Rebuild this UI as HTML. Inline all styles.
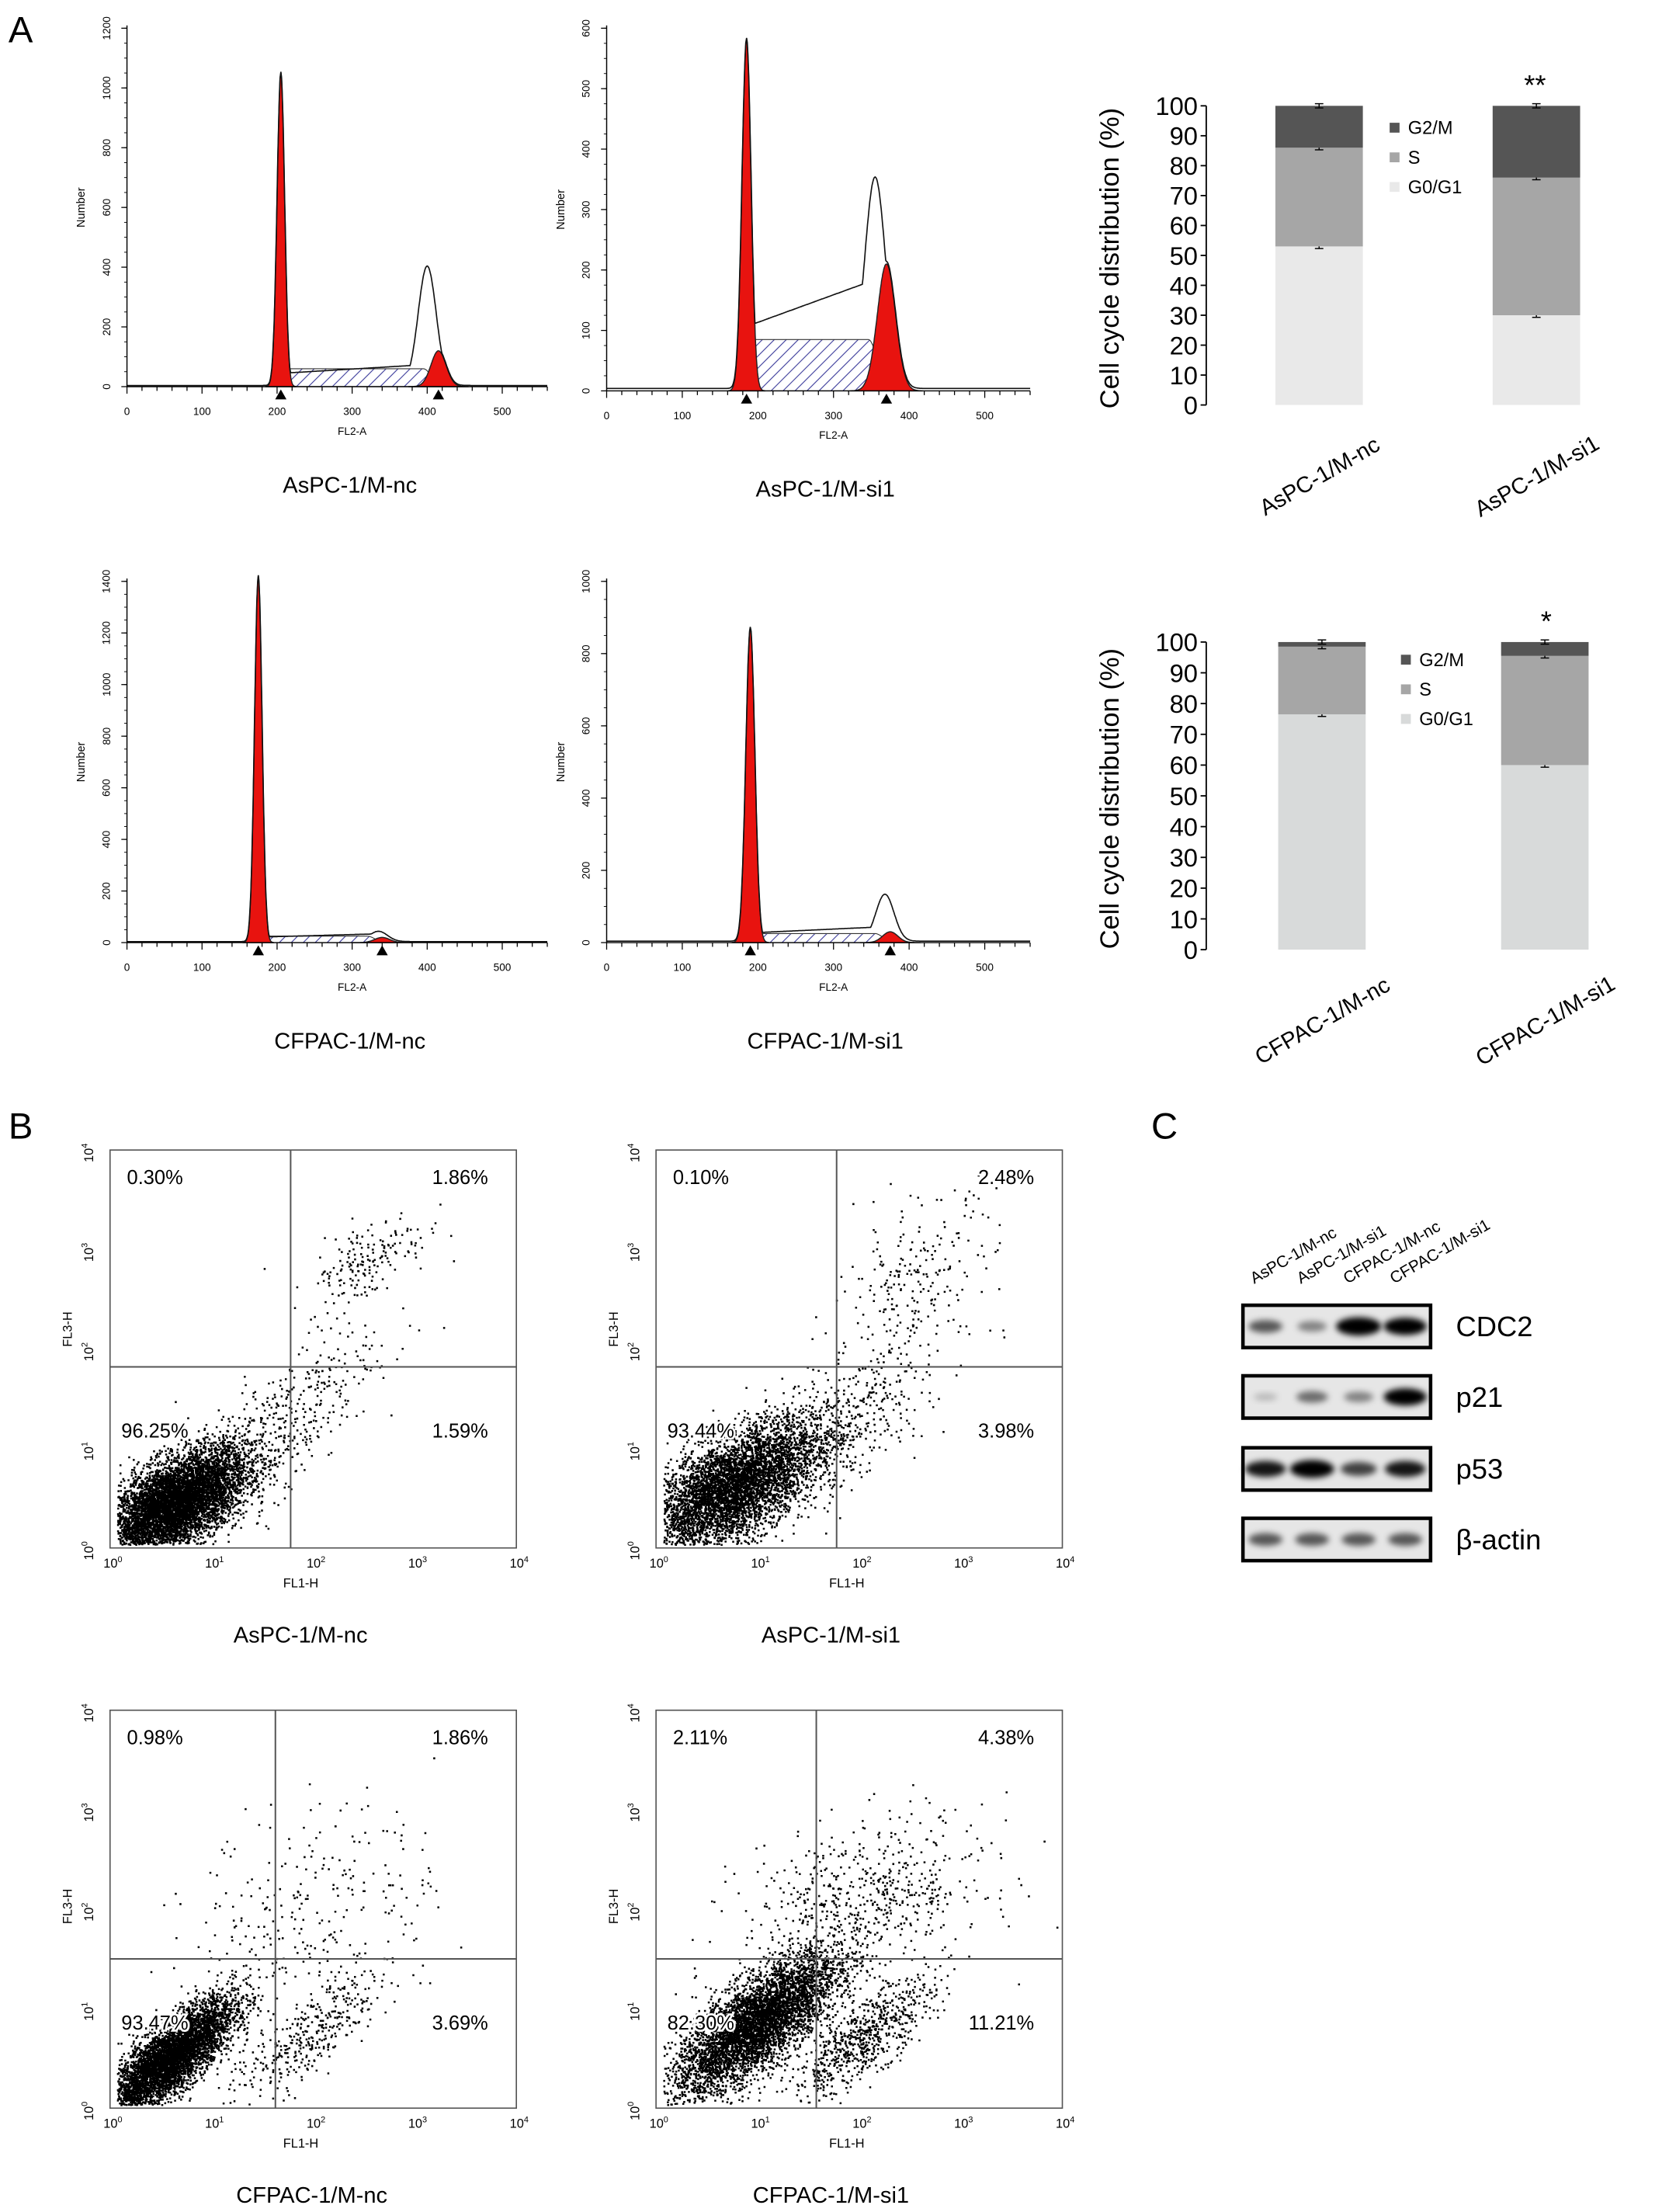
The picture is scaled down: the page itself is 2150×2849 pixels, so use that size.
<!DOCTYPE html>
<html><head><meta charset="utf-8">
<style>
html,body{margin:0;padding:0;background:#fff;}
svg{display:block;font-family:"Liberation Sans",Arial,sans-serif;}
</style></head>
<body>
<svg id="fig" width="2150" height="2849" viewBox="0 0 1183 1567.6" preserveAspectRatio="none" xmlns="http://www.w3.org/2000/svg">
<defs>
<pattern id="hatch" patternUnits="userSpaceOnUse" width="6" height="6" patternTransform="rotate(45)">
<rect width="6" height="6" fill="#fff"/><line x1="0" y1="0" x2="0" y2="6" stroke="#3a3a9a" stroke-width="1.2"/></pattern>
<filter id="blur" x="-50%" y="-50%" width="200%" height="200%"><feGaussianBlur stdDeviation="2.2"/></filter>
</defs>
<text x="6" y="30" font-size="26">A</text>
<text x="6" y="807" font-size="26">B</text>
<text x="816" y="807" font-size="26">C</text>
<g id="root"></g>
</svg>
<script>
// ---------- Histogram data (channel, count) ----------
const histNames = ["AsPC-1/M-nc","AsPC-1/M-si1","CFPAC-1/M-nc","CFPAC-1/M-si1"];
const histYMax = [1200,600,1400,1000];
const histYStep = [200,100,200,200];
const g1Pos = [205,185,175,190];
const g1Height = [1050,580,1420,870];
const g2Pos = [415,370,340,375];
const g2Height = [120,210,20,30];
const rawG2Pos = [400,355,335,368];
const rawG2Height = [400,350,40,130];
const sLevel = [60,85,25,25];
const rawSLevel = [70,180,30,40];
// ---------- Bar chart data ----------
const bar1Cats = ["AsPC-1/M-nc","AsPC-1/M-si1"];
const bar1G1 = [53,30];
const bar1S = [33,46];
const bar1G2 = [14,24];
const bar2Cats = ["CFPAC-1/M-nc","CFPAC-1/M-si1"];
const bar2G1 = [76.5,60];
const bar2S = [22,35.5];
const bar2G2 = [1.5,4.5];
const barTicks = [0,10,20,30,40,50,60,70,80,90,100];
// ---------- Scatter data: cluster [cx, cy (decades), sx, sy, rho, n] ----------
const scatNames = ["AsPC-1/M-nc","AsPC-1/M-si1","CFPAC-1/M-nc","CFPAC-1/M-si1"];
const scatQuadX = [1.75,1.75,1.6,1.55];
const scatQuadY = [1.82,1.82,1.5,1.5];
const scatPct = [["0.30%","1.86%","96.25%","1.59%"],["0.10%","2.48%","93.44%","3.98%"],["0.98%","1.86%","93.47%","3.69%"],["2.11%","4.38%","82.30%","11.21%"]];
const scatClusters1 = [[0.6,0.45,0.36,0.28,0.6,7000],[2.5,2.9,0.3,0.25,0.6,180],[1.6,1.2,0.5,0.5,0.8,400]];
const scatClusters2 = [[0.7,0.6,0.42,0.33,0.6,7000],[2.5,2.6,0.4,0.5,0.5,250],[1.6,1.1,0.5,0.4,0.7,600]];
const scatClusters3 = [[0.55,0.5,0.32,0.3,0.8,6500],[2.0,2.1,0.6,0.5,0.3,250],[1.9,0.7,0.4,0.35,0.8,400]];
const scatClusters4 = [[0.95,0.85,0.4,0.35,0.75,6500],[2.0,2.1,0.6,0.4,0.3,600],[2.0,0.7,0.35,0.3,0.8,700]];
// ---------- Blot data ----------
const blotLanes = ["AsPC-1/M-nc","AsPC-1/M-si1","CFPAC-1/M-nc","CFPAC-1/M-si1"];
const blotProteins = ["CDC2","p21","p53","β-actin"];
const blotCDC2 = [0.5,0.3,1,0.9];
const blotP21 = [0.05,0.4,0.3,0.9];
const blotP53 = [0.8,0.95,0.6,0.8];
const blotActin = [0.5,0.5,0.5,0.5];

const NS="http://www.w3.org/2000/svg";
const root=document.getElementById('root');
function mk(tag,attrs,parent,text){const e=document.createElementNS(NS,tag);for(const k in attrs)e.setAttribute(k,attrs[k]);if(text!==undefined)e.textContent=text;(parent||root).appendChild(e);return e;}

// ===== Histograms =====
const histLayout=[{x0:90,b:274,top:20,ppc:0.532},{x0:430,b:277,top:20,ppc:0.536},{x0:90,b:668,top:412,ppc:0.532},{x0:430,b:668,top:412,ppc:0.536}];
function gauss(x,m,s){return Math.exp(-0.5*((x-m)/s)**2);}
histNames.forEach((nm,i)=>{
  const L=histLayout[i];
  const g=mk('g',{});
  
  
  const X=c=>L.x0+c*L.ppc, Y=v=>L.b-v/histYMax[i]*(L.b-L.top);
  const sd1=i===1||i===3?6:5, sd2=i===1?12:10;
  const sFn=c=>{const a=g1Pos[i]+2*sd1,bb=g2Pos[i]-2*sd2;if(c<a)return sLevel[i]*gauss(c,a,sd1);if(c>bb)return sLevel[i]*gauss(c,bb,sd2);return sLevel[i];};
  let p='M'+X(g1Pos[i]-10)+','+L.b;
  for(let c=g1Pos[i]-10;c<=g2Pos[i]+20;c++)p+=' L'+X(c).toFixed(1)+','+Y(sFn(c)).toFixed(1);
  p+=' L'+X(g2Pos[i]+20)+','+L.b+'Z';
  const sr=mk('path',{d:p,fill:'url(#hatch)',stroke:'#333','stroke-width':0.6},g);
  
  [[g1Pos[i],g1Height[i],sd1],[g2Pos[i],g2Height[i],sd2]].forEach((pk,k)=>{
    let d='M'+X(pk[0]-4*pk[2])+','+L.b;
    for(let c=pk[0]-4*pk[2];c<=pk[0]+4*pk[2];c+=0.5)d+=' L'+X(c).toFixed(1)+','+Y(pk[1]*gauss(c,pk[0],pk[2])).toFixed(1);
    d+=' L'+X(pk[0]+4*pk[2])+','+L.b+'Z';
    const e=mk('path',{d:d,fill:'#e8130f',stroke:'#222','stroke-width':0.8},g);
    
  });
  let d='';
  for(let c=0;c<=560;c++){
    const a=g1Pos[i]+2*sd1,bb=rawG2Pos[i];
    let s;
    if(c<=a)s=rawSLevel[i]*0.6*gauss(c,a,sd1);
    else if(c<bb)s=rawSLevel[i]*(0.6+0.4*(c-a)/(bb-a));
    else s=rawSLevel[i]*gauss(c,bb,sd2);
    const v=Math.max(g1Height[i]*gauss(c,g1Pos[i],sd1),s,rawG2Height[i]*gauss(c,rawG2Pos[i],sd2+2),g2Height[i]*gauss(c,g2Pos[i],sd2))+4;
    d+=(c?' L':'M')+X(c).toFixed(1)+','+Y(v).toFixed(1);
  }
  const ro=mk('path',{d:d,fill:'none',stroke:'#111','stroke-width':0.9},g);
  
  mk('line',{x1:L.x0,y1:L.top-2,x2:L.x0,y2:L.b,stroke:'#000','stroke-width':0.8},g);
  mk('line',{x1:L.x0,y1:L.b,x2:X(560),y2:L.b,stroke:'#000','stroke-width':0.8},g);
  for(let c=0;c<=560;c+=20){mk('line',{x1:X(c),y1:L.b,x2:X(c),y2:L.b+(c%100?3:5),stroke:'#000','stroke-width':0.7},g);}
  for(let c=0;c<=500;c+=100)mk('text',{x:X(c),y:L.b+20,'font-size':7.5,'text-anchor':'middle'},g,c);
  for(let v=0;v<=histYMax[i];v+=histYStep[i]){
    mk('line',{x1:L.x0-4,y1:Y(v),x2:L.x0,y2:Y(v),stroke:'#000','stroke-width':0.7},g);
    mk('text',{x:L.x0-12,y:Y(v),'font-size':7.5,'text-anchor':'middle',transform:`rotate(-90 ${L.x0-12} ${Y(v)})`},g,v);
  }
  for(let v=0;v<=histYMax[i];v+=histYStep[i]/4)mk('line',{x1:L.x0-2,y1:Y(v),x2:L.x0,y2:Y(v),stroke:'#000','stroke-width':0.5},g);
  [g1Pos[i],g2Pos[i]].forEach(c=>mk('path',{d:`M${X(c)-4},${L.b+9} L${X(c)+4},${L.b+9} L${X(c)},${L.b+2}Z`,fill:'#000'},g));
  mk('text',{x:X(300),y:L.b+34,'font-size':7.5,'text-anchor':'middle'},g,'FL2-A');
  const yl=(L.top+L.b)/2;
  mk('text',{x:L.x0-30,y:yl,'font-size':8,'text-anchor':'middle',transform:`rotate(-90 ${L.x0-30} ${yl})`},g,'Number');
  const cap=mk('text',{x:i%2?585:248,y:L.b+75,'font-size':16,'text-anchor':'middle'},g,nm);
  
});

// ===== Bar charts =====
function barChart(ax,b0,b100,bx,cats,g1,s,g2,colors,legY,legX,stars,starX,nm){
  const g=mk('g',{});
  
  const Y=v=>b0-v/100*(b0-b100);
  cats.forEach((c,j)=>{
    let acc=0;
    [g1[j],s[j],g2[j]].forEach((v,k)=>{
      const r=mk('rect',{x:bx[j],y:Y(acc+v),width:62,height:Y(acc)-Y(acc+v),fill:colors[k]},g);
      
      acc+=v;
      const ey=Y(acc), cx=bx[j]+31;
      mk('line',{x1:cx-3,y1:ey-1.5,x2:cx+3,y2:ey-1.5,stroke:'#000','stroke-width':0.8},g);
      mk('line',{x1:cx-3,y1:ey+1.5,x2:cx+3,y2:ey+1.5,stroke:'#000','stroke-width':0.8},g);
      mk('line',{x1:cx,y1:ey-1.5,x2:cx,y2:ey+1.5,stroke:'#000','stroke-width':0.8},g);
    });
    const lx=bx[j]+34, ly=b0+55;
    const t=mk('text',{x:lx,y:ly,'font-size':16,'text-anchor':'middle',transform:`rotate(-30 ${lx} ${ly})`},g,c);
    
  });
  mk('line',{x1:ax,y1:b100,x2:ax,y2:b0,stroke:'#000','stroke-width':1},g);
  barTicks.forEach(v=>{mk('line',{x1:ax-4,y1:Y(v),x2:ax,y2:Y(v),stroke:'#000','stroke-width':1},g);
    mk('text',{x:ax-6,y:Y(v)+6.5,'font-size':18,'text-anchor':'end'},g,v);});
  const yt=(b0+b100)/2+2, tx=793;
  const ytl=mk('text',{x:tx,y:yt,'font-size':19,'text-anchor':'middle',transform:`rotate(-90 ${tx} ${yt})`},g,'Cell cycle distribution (%)');
  
  ['G2/M','S','G0/G1'].forEach((l,k)=>{
    mk('rect',{x:legX,y:legY+k*21-4,width:7,height:7,fill:colors[2-k]},g);
    const lt=mk('text',{x:legX+13,y:legY+k*21+4,'font-size':13},g,l);
    
  });
  mk('text',{x:starX,y:b100-8,'font-size':20,'text-anchor':'middle'},g,stars);
}
barChart(855,287,75,[904,1058],bar1Cats,bar1G1,bar1S,bar1G2,['#e9e9e9','#a6a6a6','#555555'],91,985,'**',1088,'bar-chart-aspc');
barChart(855,673,455,[906,1064],bar2Cats,bar2G1,bar2S,bar2G2,['#d8dada','#a6a6a6','#555555'],468,993,'*',1096,'bar-chart-cfpac');

// ===== Scatter plots =====
const scatLayout=[{l:78,b:1097},{l:465,b:1097},{l:78,b:1494},{l:465,b:1494}];
const scatClusters=[scatClusters1,scatClusters2,scatClusters3,scatClusters4];
let seed=12345;function rnd(){seed=(seed*1103515245+12345)%2147483648;return seed/2147483648;}
function nrm(){return Math.sqrt(-2*Math.log(rnd()+1e-9))*Math.cos(2*Math.PI*rnd());}
scatNames.forEach((nm,i)=>{
  const L=scatLayout[i];
  const g=mk('g',{});
  
  const X=d=>L.l+2+d*72, Y=d=>L.b-d*70.5;
  let d='';
  scatClusters[i].forEach(cl=>{
    for(let n=0;n<cl[5];n++){
      const z1=nrm(),z2=nrm();
      const dx=cl[0]+cl[2]*z1, dy=cl[1]+cl[3]*(cl[4]*z1+Math.sqrt(1-cl[4]*cl[4])*z2);
      if(dx<0.04||dx>3.96||dy<0.04||dy>3.96)continue;
      const px=X(dx),py=Y(dy);
      d+='M'+px.toFixed(1)+','+py.toFixed(1)+'h1.4v1.4h-1.4z';
    }
  });
  const dots=mk('path',{d:d,fill:'#000'},g);
  
  const right=X(4)-2, top=Y(4);
  mk('rect',{x:L.l,y:top,width:right-L.l,height:L.b-top,fill:'none',stroke:'#555','stroke-width':0.9},g);
  const qx=X(scatQuadX[i]), qy=Y(scatQuadY[i]);
  mk('line',{x1:qx,y1:top,x2:qx,y2:L.b,stroke:'#555','stroke-width':1.1},g);
  mk('line',{x1:L.l,y1:qy,x2:right,y2:qy,stroke:'#555','stroke-width':1.1},g);
  for(let k=0;k<=4;k++){
    const tx=mk('text',{x:X(k),y:L.b+14,'font-size':9,'text-anchor':'middle'},g,'10');
    mk('tspan',{dy:-4,'font-size':6},tx,k);
    const yy=Y(k)+2, xx=L.l-12;
    const ty=mk('text',{x:xx,y:yy,'font-size':9,'text-anchor':'middle',transform:`rotate(-90 ${xx} ${yy})`},g,'10');
    mk('tspan',{dy:-4,'font-size':6},ty,k);
  }
  mk('text',{x:X(1.85),y:L.b+28,'font-size':9,'text-anchor':'middle'},g,'FL1-H');
  const ly=Y(2.0)+(i<2?-14:-2), lx=L.l-27;
  mk('text',{x:lx,y:ly,'font-size':9,'text-anchor':'middle',transform:`rotate(-90 ${lx} ${ly})`},g,'FL3-H');
  const p=scatPct[i], topY=top+24, botY=qy+50;
  [[L.l+12,topY,'start',p[0]],[right-20,topY,'end',p[1]],[L.l+8,botY,'start',p[2]],[right-20,botY,'end',p[3]]].forEach(a=>{
    const t=mk('text',{x:a[0],y:a[1],'font-size':14,'text-anchor':a[2],stroke:'#fff','stroke-width':3,'paint-order':'stroke'},g,a[3]);
    
  });
  const cap=mk('text',{x:i%2?589:(i?221:213),y:L.b+67,'font-size':16,'text-anchor':'middle'},g,nm);
  
});

// ===== Western blot =====
const blotG=mk('g',{});

const laneX=[897,930,963,996];
blotLanes.forEach((l,j)=>{
  const t=mk('text',{x:laneX[j]-8,y:910,'font-size':11.5,transform:`rotate(-30 ${laneX[j]-8} 910)`},blotG,l);
  
});
const boxY=[925,975,1026,1076];
const blotVals=[blotCDC2,blotP21,blotP53,blotActin];
blotProteins.forEach((pn,k)=>{
  const by=boxY[k];
  mk('rect',{x:881,y:by,width:133,height:30,fill:'#e6e6e6'},blotG);
  blotVals[k].forEach((v,j)=>{
    const e=mk('ellipse',{cx:laneX[j],cy:by+15,rx:8+8*v,ry:2.5+4*v,fill:'#000','fill-opacity':Math.min(1,0.15+0.95*v),filter:'url(#blur)'},blotG);
    
  });
  mk('rect',{x:881,y:by,width:133,height:30,fill:'none',stroke:'#000','stroke-width':2.5},blotG);
  const t=mk('text',{x:1032,y:by+22,'font-size':20},blotG,pn);
  
});
</script>
</body></html>
